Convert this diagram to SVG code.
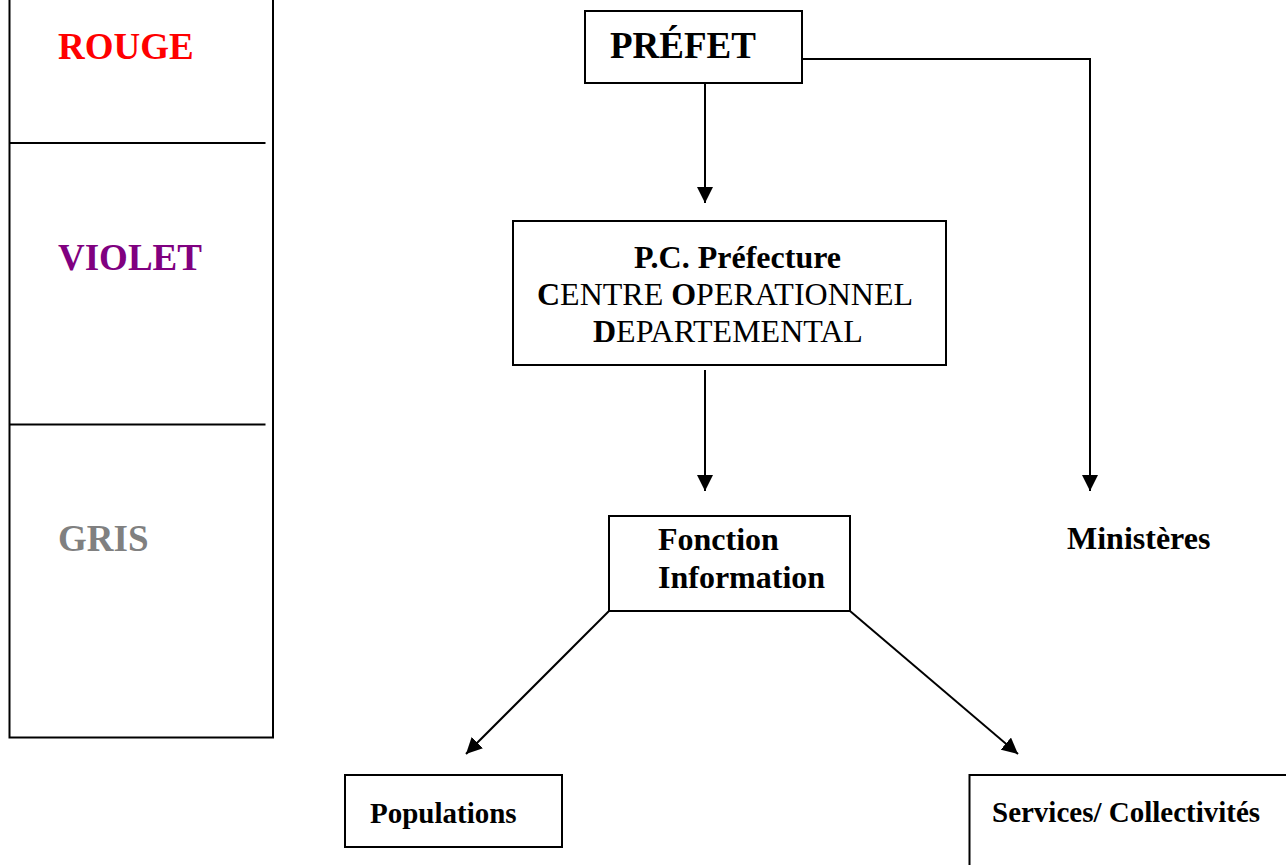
<svg xmlns="http://www.w3.org/2000/svg" width="1286" height="865" viewBox="0 0 1286 865">
<defs>
<style>
.box{fill:#fff;stroke:#000;stroke-width:2}
.ln{fill:none;stroke:#000;stroke-width:2}
.t{font-family:"Liberation Serif","Times New Roman",serif;fill:#000}
.b{font-weight:bold}
.legend{font-family:"Liberation Serif","Times New Roman",serif;font-weight:bold;font-size:37px}
</style>
<marker id="arr" markerUnits="userSpaceOnUse" markerWidth="17" markerHeight="16" refX="16" refY="8" orient="auto">
<path d="M0,0 L16,8 L0,16 Z" fill="#000"/>
</marker>
</defs>
<rect width="1286" height="865" fill="#fff"/>
<g id="legend">
<rect x="9.5" y="-5" width="263.5" height="742.5" class="box" stroke-width="2.5"/>
<line x1="10" y1="143" x2="265.5" y2="143" class="ln"/>
<line x1="10" y1="424.5" x2="265.5" y2="424.5" class="ln"/>
<text x="58" y="59" class="legend" fill="#ff0000">ROUGE</text>
<text x="58" y="270" class="legend" fill="#800080">VIOLET</text>
<text x="58" y="551" class="legend" fill="#808080">GRIS</text>
</g>
<g id="connectors">
<line x1="705" y1="83" x2="705" y2="203" class="ln" marker-end="url(#arr)"/>
<polyline points="802,59 1090,59 1090,491" class="ln" marker-end="url(#arr)"/>
<line x1="705" y1="370" x2="705" y2="491" class="ln" marker-end="url(#arr)"/>
<line x1="609" y1="611" x2="466" y2="754" class="ln" marker-end="url(#arr)"/>
<line x1="850" y1="611" x2="1018" y2="754" class="ln" marker-end="url(#arr)"/>
</g>
<g id="prefet">
<rect x="585" y="11" width="217" height="72" class="box"/>
<text x="610" y="58" class="t b" font-size="37">PRÉFET</text>
</g>
<g id="pc-prefecture">
<rect x="513" y="221" width="433" height="144" class="box"/>
<text x="634" y="268" class="t b" font-size="32">P.C. Préfecture</text>
<text x="537" y="305" class="t" font-size="32"><tspan font-weight="bold">C</tspan>ENTRE <tspan font-weight="bold">O</tspan>PERATIONNEL</text>
<text x="593" y="342" class="t" font-size="32"><tspan font-weight="bold">D</tspan>EPARTEMENTAL</text>
</g>
<g id="fonction-information">
<rect x="609" y="516" width="241" height="95" class="box"/>
<text x="658" y="550" class="t b" font-size="32">Fonction</text>
<text x="658" y="588" class="t b" font-size="32">Information</text>
</g>
<g id="ministeres">
<text x="1067" y="549" class="t b" font-size="32">Ministères</text>
</g>
<g id="populations">
<rect x="345" y="775" width="217" height="72" class="box"/>
<text x="370" y="823" class="t b" font-size="29">Populations</text>
</g>
<g id="services">
<rect x="969.5" y="775" width="330" height="100" class="box"/>
<text x="992" y="822" class="t b" font-size="29">Services/ Collectivités</text>
</g>
</svg>
